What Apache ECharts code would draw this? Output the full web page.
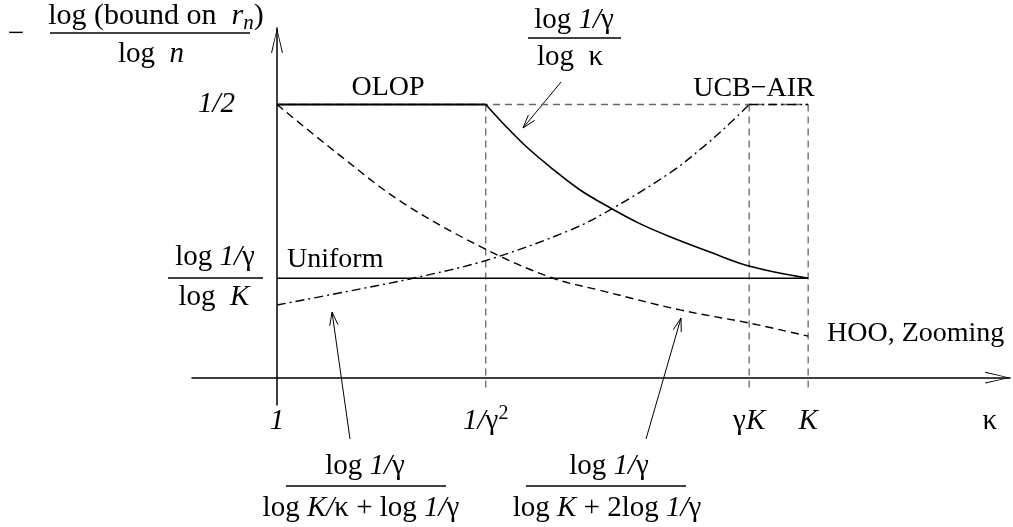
<!DOCTYPE html>
<html>
<head>
<meta charset="utf-8">
<script src="https://cdn.jsdelivr.net/npm/echarts@6/dist/echarts.min.js"></script>
<style>
html, body { margin: 0; padding: 0; background: #fff; }
#main { width: 1013px; height: 527px; }
</style>
</head>
<body>
<div id="main"></div>
<script>
// x: kappa in sketch units (kappa = 1 -> 0, kappa = K -> 10), y: the rate exponent
var xTicks = [0, 3.93, 8.89, 10, 13.42];
var xTickNames = ['{i|1}', '{i|1/}{n|γ}{sup|2}', '{n|γ}{i|K}', '{i|K}', '{n|κ}'];
var yTicks = [0.5];
var yTickNames = ['{i|1/2}'];

var olopFlat = [[0, 0.5], [3.93, 0.5]];
var olopCurve = [[3.93, 0.5], [4.29, 0.462], [4.67, 0.425], [5.14, 0.386], [5.70, 0.344], [6.27, 0.311],
  [6.83, 0.282], [7.40, 0.258], [8.15, 0.230], [8.90, 0.204], [10, 0.182]];
var ucbCurve = [[0, 0.133], [1.28, 0.157], [2.56, 0.182], [3.95, 0.215], [5.52, 0.270], [6.27, 0.307],
  [7.40, 0.375], [8.02, 0.422], [8.53, 0.466], [8.89, 0.5]];
var ucbFlat = [[8.89, 0.5], [10, 0.5]];
var hooCurve = [[0, 0.5], [1.13, 0.411], [2.37, 0.320], [3.95, 0.234], [5.20, 0.182], [6.08, 0.160],
  [7.59, 0.124], [8.89, 0.100], [10, 0.076]];
var uniform = [[0, 0.182], [10, 0.182]];
var guideTop = [[0, 0.5], [10, 0.5]];
var guideX = [3.93, 8.89, 10];
var guideBottom = -0.024;

var serif = 'Liberation Serif';
function richStyles(size) {
  var lh = size + 6, small = Math.round(size * 0.7);
  return {
    n: { fontFamily: serif, fontSize: size, fontStyle: 'normal', color: '#000', lineHeight: lh },
    i: { fontFamily: serif, fontSize: size, fontStyle: 'italic', color: '#000', lineHeight: lh },
    t: { fontFamily: serif, fontSize: 28, fontStyle: 'normal', color: '#000', lineHeight: 34 },
    sup: { fontFamily: serif, fontSize: small, color: '#000', lineHeight: small, verticalAlign: 'top' },
    sub: { fontFamily: serif, fontSize: small, fontStyle: 'italic', color: '#000', lineHeight: small, verticalAlign: 'bottom' }
  };
}
var R = richStyles(29);
var R30 = richStyles(30);

function lineSeries(data, dash, width, color, smooth) {
  return {
    type: 'line', data: data, showSymbol: false, silent: true, smooth: smooth || false,
    lineStyle: { color: color || '#000', width: width || 1.6, type: dash || 'solid' },
    animation: false
  };
}

var series = [];
// gray guides
series.push(lineSeries(guideTop, [7, 5], 1.3, '#666'));
guideX.forEach(function (x) {
  series.push(lineSeries([[x, 0.5], [x, guideBottom]], [7, 5], 1.3, '#666'));
});
series.push(lineSeries(uniform, 'solid', 1.6));
series.push(lineSeries(olopFlat, 'solid', 1.8));
series.push(lineSeries(olopCurve, 'solid', 1.6, '#000', 0.35));
series.push(lineSeries(hooCurve, [8, 5], 1.4, '#000', 0.35));
series.push(lineSeries(ucbCurve, [9, 4, 2, 4], 1.4, '#000', 0.35));
series.push(lineSeries(ucbFlat, [9, 4, 2, 4], 1.4));

function txt(x, y, text, align, rich) {
  return {
    type: 'text', x: x, y: y, silent: true,
    style: { text: text, rich: rich || R, font: '28px ' + serif, fill: '#000', align: align || 'center', verticalAlign: 'middle' }
  };
}
function bar(x1, x2, y) {
  return { type: 'line', silent: true, shape: { x1: x1, y1: y, x2: x2, y2: y }, style: { stroke: '#000', lineWidth: 1.3 } };
}
function arrow(x1, y1, x2, y2) {
  var a = Math.atan2(y2 - y1, x2 - x1), len = 14, s = 0.3;
  return [
    { type: 'line', silent: true, shape: { x1: x1, y1: y1, x2: x2, y2: y2 }, style: { stroke: '#000', lineWidth: 1 } },
    { type: 'polyline', silent: true, shape: { points: [
      [x2 - len * Math.cos(a - s), y2 - len * Math.sin(a - s)], [x2, y2],
      [x2 - len * Math.cos(a + s), y2 - len * Math.sin(a + s)]] },
      style: { stroke: '#000', lineWidth: 1, fill: null } }
  ];
}

var graphics = [
  txt(16, 34, '{n|−}'),
  txt(156, 16, '{n|log (bound on  }{i|r}{sub|n}{n|)}', 'center', R30),
  bar(50, 250, 33),
  txt(151, 54, '{n|log  }{i|n}'),
  txt(388, 88, '{t|OLOP}'),
  txt(754, 89, '{t|UCB−AIR}'),
  txt(287, 260, '{t|Uniform}', 'left'),
  txt(827, 334, '{t|HOO, Zooming}', 'left'),
  // log 1/gamma over log kappa
  txt(574, 20, '{n|log }{i|1/}{n|γ}'),
  bar(528, 621, 38),
  txt(570, 57, '{n|log  κ}'),
  // log 1/gamma over log K
  txt(215, 257, '{n|log }{i|1/}{n|γ}'),
  bar(168, 263, 278),
  txt(214, 297, '{n|log  }{i|K}'),
  // bottom formulas
  txt(365, 466, '{n|log }{i|1/}{n|γ}'),
  bar(286, 446, 486),
  txt(361, 508, '{n|log }{i|K/}{n|κ + log }{i|1/}{n|γ}'),
  txt(609, 466, '{n|log }{i|1/}{n|γ}'),
  bar(526, 686, 486),
  txt(607, 508, '{n|log }{i|K}{n| + 2log }{i|1/}{n|γ}')
].concat(arrow(561, 82, 523, 128), arrow(350, 439, 332, 312), arrow(646, 439, 681, 318));

var openArrow = 'path://M6,0 L12,25 L11,25.4 L6,2.6 L1,25.4 L0,25 Z';

var chart = echarts.init(document.getElementById('main'));
chart.setOption({
  animation: false,
  backgroundColor: '#fff',
  grid: { left: 192, right: 3, top: 28, bottom: 122, containLabel: false, outerBoundsMode: 'none' },
  xAxis: {
    type: 'value', min: -1.6, max: 13.8,
    splitLine: { show: false }, axisTick: { show: false },
    axisLine: { onZero: true, lineStyle: { color: '#000', width: 1.5 },
      symbol: ['none', openArrow], symbolSize: [12, 25], symbolOffset: [0, -12.5] },
    axisLabel: {
      customValues: xTicks, margin: -1, rich: R, hideOverlap: false,
      formatter: function (v) {
        var best = 0;
        xTicks.forEach(function (t, k) { if (Math.abs(t - v) < Math.abs(xTicks[best] - v)) best = k; });
        return xTickNames[best];
      }
    }
  },
  yAxis: {
    type: 'value', min: -0.05, max: 0.64,
    splitLine: { show: false }, axisTick: { show: false },
    axisLine: { onZero: true, lineStyle: { color: '#000', width: 1.5 },
      symbol: ['none', openArrow], symbolSize: [12, 25], symbolOffset: [0, -12.5] },
    axisLabel: {
      customValues: yTicks, margin: -43, rich: R,
      formatter: function (v) { return yTickNames[yTicks.indexOf(v)] || ''; }
    }
  },
  graphic: graphics,
  series: series
});
</script>
</body>
</html>
